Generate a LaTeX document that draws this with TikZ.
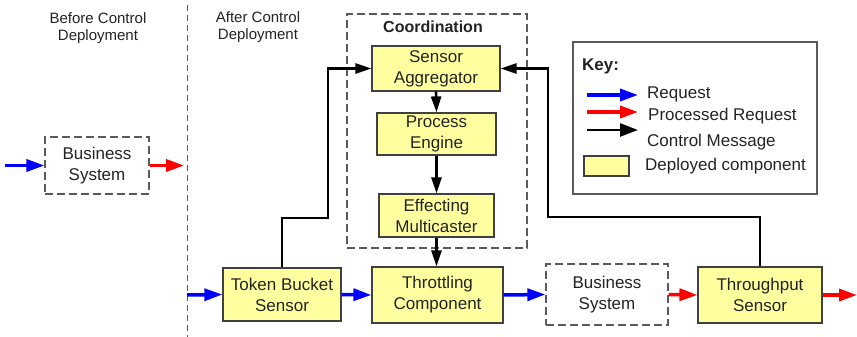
\documentclass[tikz,border=0pt]{standalone}
\usepackage{fontspec}
\setmainfont{Liberation Sans}
\usetikzlibrary{arrows.meta,positioning}
\definecolor{compyellow}{RGB}{255,255,160}
\definecolor{edgegray}{RGB}{90,90,90}
\definecolor{textgray}{RGB}{35,35,35}

\tikzset{
    comp/.style={
        draw=black!75,
        fill=compyellow,
        line width=1.2pt,
        align=center,
        inner sep=0pt,
        text=textgray,
        font=\fontsize{17}{21}\selectfont
    },
    extsys/.style={
        comp,
        fill=white,
        draw=edgegray,
        dash pattern=on 8pt off 4pt
    },
    reqin/.style={draw=blue, line width=3.5pt, -{Triangle[length=18pt,width=12pt]}},
    reqout/.style={draw=red, line width=3.5pt, -{Triangle[length=18pt,width=12pt]}},
    ctrlmsg/.style={draw=black, line width=2.6pt, -{Triangle[length=16pt,width=10pt]}},
    headtext/.style={align=center, text=textgray, font=\fontsize{15}{17}\selectfont},
    keytext/.style={anchor=west, inner sep=0pt, text=textgray, font=\fontsize{17}{21}\selectfont}
}

\begin{document}
\begin{tikzpicture}[x=1pt,y=-1pt]
    \useasboundingbox (0,0) rectangle (857,337);

    % deployment split
    \draw[edgegray, line width=1pt, dash pattern=on 6pt off 4pt] (187,5) -- (187,337);
    \node[headtext] (before) at (98,28) {Before Control\\Deployment};
    \node[headtext] (after) at (258,27) {After Control\\Deployment};

    % before deployment
    \node[extsys, minimum width=104pt, minimum height=57pt] (bsold) at (97,165.5) {Business\\System};
    \coordinate (oldin) at (5,165.5);
    \coordinate (oldout) at (184,165.5);
    \draw[reqin] (oldin) -- (bsold.west);
    \draw[reqout] (bsold.east) -- (oldout);

    % coordination group
    \node[
        draw=edgegray,
        line width=1.2pt,
        dash pattern=on 8pt off 4pt,
        minimum width=180pt,
        minimum height=234pt
    ] (coordbox) at (437,131) {};
    \node[font=\fontsize{16}{19}\selectfont\bfseries, text=textgray] (coordtitle) at (433,27) {Coordination};

    \node[comp, minimum width=128pt, minimum height=45pt] (agg) at (436,68.5) {Sensor\\Aggregator};
    \node[comp, minimum width=119pt, minimum height=42pt] (eng) at (436.5,134) {Process\\Engine};
    \node[comp, minimum width=115pt, minimum height=43pt] (mcast) at (436.5,215.5) {Effecting\\Multicaster};

    % request path
    \node[comp, minimum width=118pt, minimum height=53pt] (tbs) at (282,294.5) {Token Bucket\\Sensor};
    \node[comp, minimum width=131pt, minimum height=56pt] (thr) at (437.5,295) {Throttling\\Component};
    \node[extsys, minimum width=122pt, minimum height=61pt] (bs) at (607,294.5) {Business\\System};
    \node[comp, minimum width=124pt, minimum height=56pt] (tps) at (760,295) {Throughput\\Sensor};

    \coordinate (newin) at (187,295);
    \coordinate (newout) at (857,295);
    \draw[reqin] (newin) -- (tbs.west);
    \draw[reqin] (tbs.east) -- (thr.west);
    \draw[reqin] (thr.east) -- (bs.west);
    \draw[reqout] (bs.east) -- (tps.west);
    \draw[reqout] (tps.east) -- (newout);

    % control messages
    \coordinate (lbend) at (328,218);
    \coordinate (rbend) at (548,217);
    \draw[ctrlmsg] (tbs.north) |- (lbend) |- (agg.west);
    \draw[ctrlmsg] (tps.north) |- (rbend) |- (agg.east);
    \draw[ctrlmsg] (agg.south) -- (eng.north);
    \draw[ctrlmsg] (eng.south) -- (mcast.north);
    \draw[ctrlmsg] (mcast.south) -- (mcast.south |- thr.north);

    % key
    \node[draw=edgegray, line width=1.2pt, minimum width=244pt, minimum height=152pt] (keybox) at (695,118) {};
    \node[keytext, font=\fontsize{17}{21}\selectfont\bfseries] (keytitle) at (582,66) {Key:};
    \coordinate (kreq) at (587,95);
    \coordinate (kproc) at (587,112);
    \coordinate (kctrl) at (587,130);
    \draw[reqin] (kreq) -- ++(51,0);
    \draw[reqout] (kproc) -- ++(51,0);
    \draw[ctrlmsg, -{Triangle[length=18pt,width=13pt]}] (kctrl) -- ++(51,0);
    \node[keytext] (kreqtext) at (647,94) {Request};
    \node[keytext] (kproctext) at (648,116) {Processed Request};
    \node[keytext] (kctrltext) at (647,142) {Control Message};
    \node[comp, minimum width=45pt, minimum height=20pt] (kcomp) at (606.5,166) {};
    \node[keytext] (kcomptext) at (645,166) {Deployed component};
\end{tikzpicture}
\end{document}
